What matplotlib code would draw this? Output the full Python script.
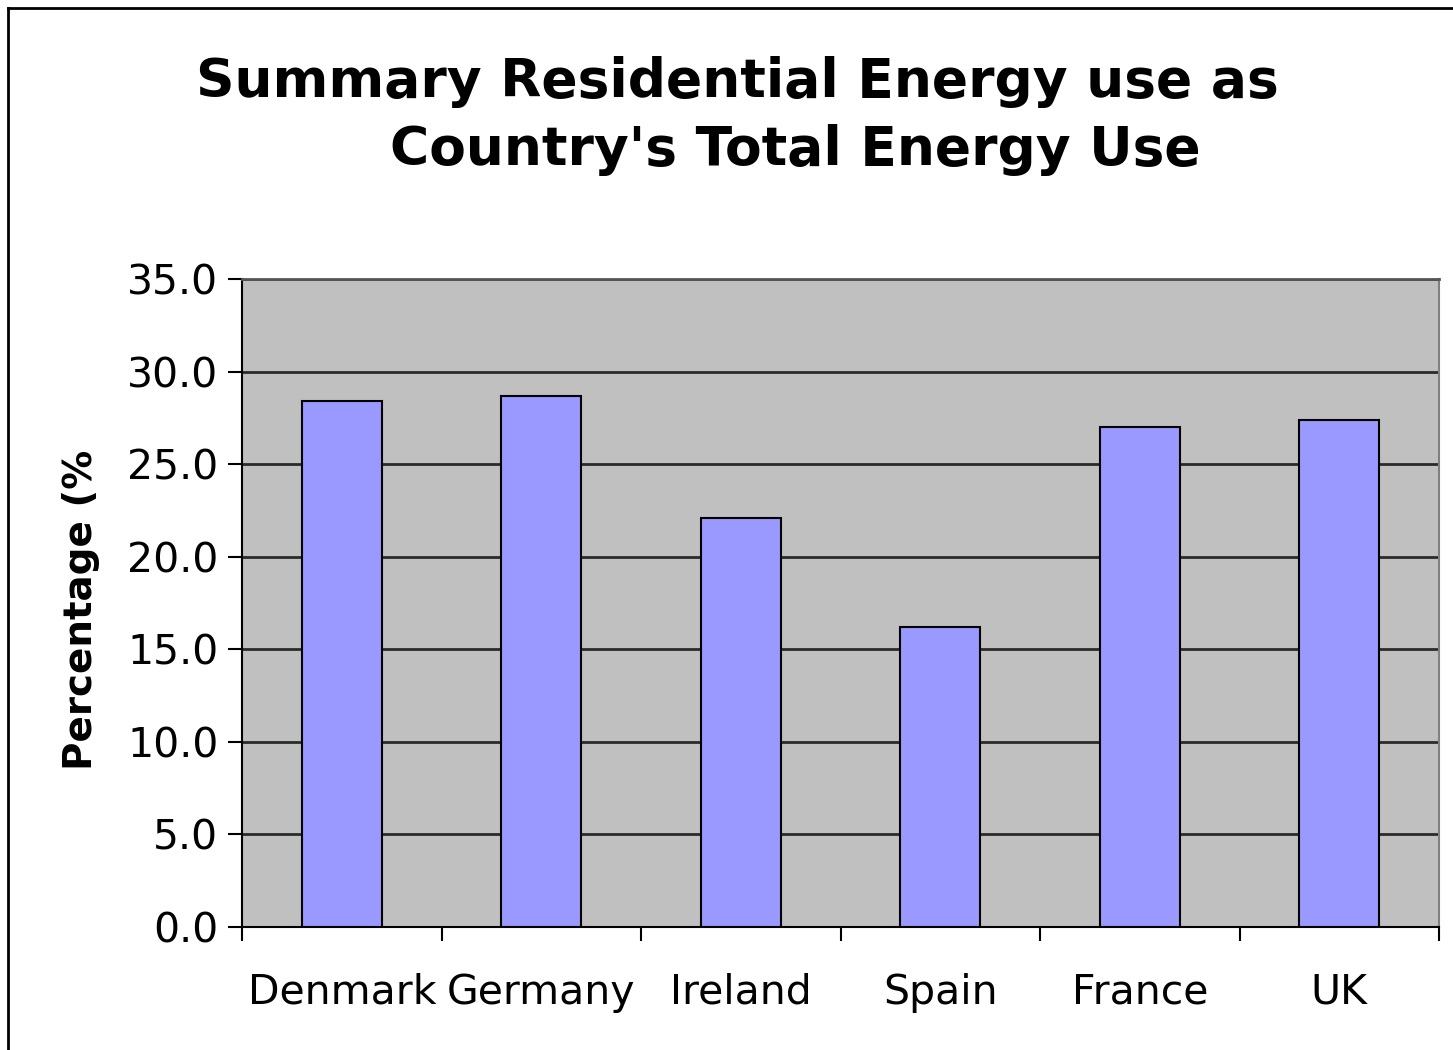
import matplotlib
matplotlib.use('Agg')
import matplotlib.pyplot as plt
from matplotlib.lines import Line2D
import numpy as np

countries = ['Denmark', 'Germany', 'Ireland', 'Spain', 'France', 'UK']
residential_pct = [28.4, 28.7, 22.1, 16.2, 27.0, 27.4]
yticks = [0, 5, 10, 15, 20, 25, 30, 35]

plt.rcParams['font.family'] = 'DejaVu Sans'

fig = plt.figure(figsize=(14.53, 10.5), dpi=100)
ax = fig.add_axes([0.1666, 0.1171, 0.8238, 0.6172])
ax.set_facecolor('#c0c0c0')

x = np.arange(len(countries))
ax.bar(x, residential_pct, width=0.4, color='#9999ff', edgecolor='black',
       linewidth=1.5, zorder=3)

ax.set_xlim(-0.5, len(countries) - 0.5)
ax.set_ylim(0, 35)
ax.set_yticks(yticks)
ax.set_yticklabels(['%.1f' % v for v in yticks])
ax.yaxis.grid(True, color='#2a2a2a', linewidth=2, zorder=1)
ax.set_axisbelow(True)

# category boundaries carry the ticks, names sit in between
ax.set_xticks(np.arange(len(countries) + 1) - 0.5)
ax.set_xticklabels([])
ax.set_xticks(x, minor=True)
ax.set_xticklabels(countries, minor=True, fontsize=29.5)
ax.tick_params(axis='x', which='minor', length=0, pad=33)
ax.tick_params(axis='x', which='major', length=10, width=1.5, direction='out')
ax.tick_params(axis='y', length=10, width=1.5, direction='out', pad=7, labelsize=29.5)

for s in ['left', 'bottom']:
    ax.spines[s].set_color('black')
    ax.spines[s].set_linewidth(1.5)
ax.spines['top'].set_color('#555555')
ax.spines['top'].set_linewidth(2)
ax.spines['right'].set_color('#808080')
ax.spines['right'].set_linewidth(1.5)

ax.set_ylabel('Percentage (%', fontsize=28, fontweight='bold')
ax.yaxis.set_label_coords((100 - 242) / 1197, 0.49)

fig.text(737 / 1453, 1 - 82 / 1050, 'Summary Residential Energy use as',
         ha='center', va='center', fontsize=38.5, fontweight='bold')
fig.text(795 / 1453, 1 - 150 / 1050, "Country's Total Energy Use",
         ha='center', va='center', fontsize=38.5, fontweight='bold')

# outer frame (only left and top visible in the original)
fig.add_artist(Line2D([8 / 1453, 8 / 1453], [0, 1 - 8 / 1050],
                      transform=fig.transFigure, color='black', linewidth=2))
fig.add_artist(Line2D([8 / 1453, 1], [1 - 8 / 1050, 1 - 8 / 1050],
                      transform=fig.transFigure, color='black', linewidth=2))

fig.savefig('out.png', dpi=100)
